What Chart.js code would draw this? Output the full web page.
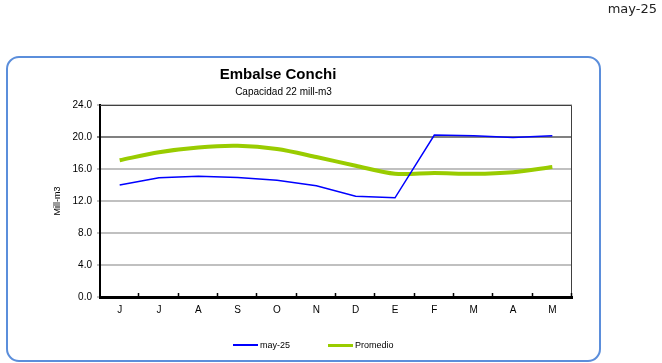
<!DOCTYPE html>
<html>
<head>
<meta charset="utf-8">
<script src="https://cdn.jsdelivr.net/npm/chart.js@4"></script>
<style>
  html, body { margin: 0; padding: 0; background: #fff; }
  #wrap { position: relative; width: 662px; height: 363px; overflow: hidden; }
  #card {
    position: absolute; left: 6px; top: 56px; width: 591px; height: 302px;
    border: 2.5px solid #5b8edb; border-radius: 13px;
  }
  canvas { position: absolute; left: 0; top: 0; }
  .txt { position: absolute; white-space: nowrap; color: #000; font-family: "Liberation Sans", Arial, sans-serif; }
  #stamp { right: 5px; top: 2px; font: 13px/13px "DejaVu Sans", Verdana, sans-serif; color: #222; }
  #title { left: 278px; top: 65.5px; transform: translateX(-50%); font-weight: bold; font-size: 15px; line-height: 15px; }
  #subtitle { left: 283.5px; top: 87px; transform: translateX(-50%); font-size: 10px; line-height: 10px; }
  .leg-line { position: absolute; width: 25px; }
  .leg-txt { font-size: 9px; line-height: 9px; top: 340.5px; }
</style>
</head>
<body>
<div id="wrap">
  <div id="card"></div>
  <canvas id="embalseChart" width="662" height="363"></canvas>
  <div class="txt" id="stamp">may-25</div>
  <div class="txt" id="title">Embalse Conchi</div>
  <div class="txt" id="subtitle">Capacidad 22 mill-m3</div>
  <div class="leg-line" style="left:233px; top:344px; height:2px; background:#0000ff;"></div>
  <div class="txt leg-txt" style="left:260px;">may-25</div>
  <div class="leg-line" style="left:328px; top:343.5px; height:3px; background:#99cc00;"></div>
  <div class="txt leg-txt" style="left:355px;">Promedio</div>
</div>
<script>
// months Jun -> May
const months = ['J', 'J', 'A', 'S', 'O', 'N', 'D', 'E', 'F', 'M', 'A', 'M'];
const actual = [14.0, 14.9, 15.1, 14.95, 14.6, 13.9, 12.6, 12.4, 20.25, 20.15, 19.95, 20.15];
const promedio = [17.1, 18.1, 18.7, 18.9, 18.5, 17.5, 16.4, 15.4, 15.5, 15.4, 15.6, 16.25];
const yTicks = [0, 4, 8, 12, 16, 20, 24];

// frame (top/right) and small inside tick marks on the x axis
const framePlugin = {
  id: 'frame',
  afterDatasetsDraw(chart) {
    const { ctx, chartArea: a } = chart;
    ctx.save();
    ctx.strokeStyle = '#404040';
    ctx.lineWidth = 1;
    ctx.beginPath();
    ctx.moveTo(a.left, a.top + 0.5);
    ctx.lineTo(a.right - 0.5, a.top + 0.5);
    ctx.lineTo(a.right - 0.5, a.bottom);
    ctx.stroke();
    const step = (a.right - a.left) / months.length;
    ctx.strokeStyle = '#000';
    ctx.lineWidth = 1.5;
    ctx.beginPath();
    for (let i = 1; i <= months.length; i++) {
      const x = Math.round(a.left + i * step) - 0.5;
      ctx.moveTo(x, a.bottom);
      ctx.lineTo(x, a.bottom - 4);
    }
    ctx.stroke();
    ctx.restore();
  }
};

const ctx = document.getElementById('embalseChart').getContext('2d');
const embalseChart = new Chart(ctx, {
  type: 'line',
  data: {
    labels: months,
    datasets: [{
      label: 'may-25',
      data: actual,
      borderColor: '#0000ff',
      borderWidth: 1.5,
      pointRadius: 0,
      tension: 0,
      order: 1
    }, {
      label: 'Promedio',
      data: promedio,
      borderColor: '#99cc00',
      borderWidth: 4,
      pointRadius: 0,
      tension: 0.3,
      order: 2
    }]
  },
  options: {
    responsive: false,
    animation: false,
    layout: { padding: { left: 52, right: 90, top: 105, bottom: 40 } },
    plugins: {
      legend: { display: false },
      title: { display: false },
      tooltip: { enabled: false }
    },
    scales: {
      x: {
        offset: true,
        grid: { display: false, drawTicks: false },
        border: { color: '#000', width: 3 },
        ticks: {
          padding: 7,
          color: '#000',
          font: { family: 'Liberation Sans, Arial', size: 10 }
        }
      },
      y: {
        min: 0,
        max: 24,
        afterFit(scale) { scale.width = 48; },
        afterBuildTicks(scale) { scale.ticks = yTicks.map(v => ({ value: v })); },
        border: { color: '#000', width: 2 },
        grid: {
          color: c => (c.tick && c.tick.value === 20 ? '#808080' : '#c0c0c0'),
          lineWidth: 2,
          tickLength: 3,
          tickWidth: 2
        },
        ticks: {
          padding: 5,
          color: '#000',
          font: { family: 'Liberation Sans, Arial', size: 10 },
          callback: v => Number(v).toFixed(1)
        },
        title: {
          display: true,
          text: 'Mill-m3',
          color: '#000',
          padding: 0,
          font: { family: 'Liberation Sans, Arial', size: 9 }
        }
      }
    }
  },
  plugins: [framePlugin]
});
</script>
</body>
</html>
